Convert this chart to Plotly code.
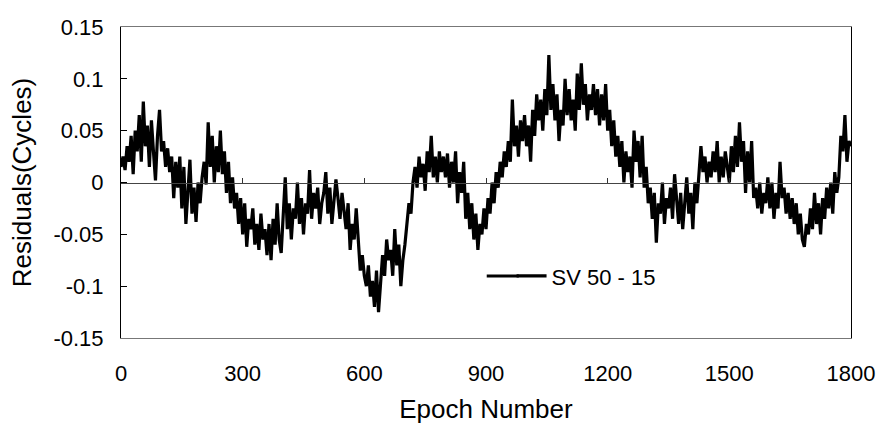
import plotly.graph_objects as go

# Epoch numbers (every 5 epochs) and residuals
step = 5
residuals = [
    # 0-95
    0.015, 0.025, 0.012, 0.035, 0.02, 0.045, 0.008, 0.05, 0.03, 0.065, 0.02, 0.078, 0.035, 0.055, 0.015, 0.06, 0.03, 0.002, 0.045, 0.07,
    # 100-195
    0.03, 0.04, 0.015, 0.033, 0.01, 0.025, -0.015, 0.02, -0.005, 0.025, -0.025, 0.015, -0.04, -0.01, 0.022, -0.03, -0.005, -0.038, 0.0, -0.02,
    # 200-295
    0.005, 0.02, -0.002, 0.058, 0.015, 0.045, 0.0, 0.035, 0.01, 0.05, 0.008, 0.03, -0.01, 0.02, -0.02, 0.005, -0.025, -0.01, -0.04, -0.015,
    # 300-395
    -0.05, -0.02, -0.062, -0.035, -0.045, -0.025, -0.06, -0.04, -0.065, -0.03, -0.055, -0.045, -0.07, -0.04, -0.075, -0.035, -0.06, -0.02, -0.055, -0.068,
    # 400-495
    -0.03, 0.005, -0.045, -0.02, -0.055, -0.025, -0.035, 0.0, -0.04, -0.015, -0.05, -0.02, -0.03, 0.012, -0.035, -0.01, -0.025, -0.005, -0.04, -0.02,
    # 500-595
    -0.01, 0.01, -0.03, -0.005, -0.04, -0.02, 0.003, -0.015, -0.035, -0.01, -0.025, -0.045, -0.02, -0.065, -0.04, -0.055, -0.025, -0.06, -0.085, -0.07,
    # 600-695
    -0.09, -0.1, -0.08, -0.11, -0.095, -0.12, -0.085, -0.125, -0.1, -0.07, -0.09, -0.055, -0.075, -0.065, -0.09, -0.045, -0.08, -0.06, -0.1, -0.075,
    # 700-795
    -0.06, -0.04, -0.02, -0.03, 0.0, 0.015, -0.005, 0.025, 0.005, 0.018, -0.008, 0.03, 0.01, 0.045, 0.005, 0.025, 0.0, 0.03, 0.01, 0.025,
    # 800-895
    0.005, 0.028, -0.005, 0.02, 0.0, 0.03, -0.02, 0.01, -0.01, 0.02, -0.035, -0.01, -0.045, -0.02, -0.055, -0.03, -0.065, -0.04, -0.05, -0.025,
    # 900-995
    -0.045, -0.015, -0.03, 0.0, -0.02, 0.01, -0.005, 0.02, 0.005, 0.03, 0.015, 0.04, 0.02, 0.08, 0.035, 0.055, 0.025, 0.06, 0.04, 0.065,
    # 1000-1095
    0.035, 0.055, 0.02, 0.07, 0.045, 0.085, 0.06, 0.08, 0.05, 0.09, 0.065, 0.123, 0.07, 0.095, 0.06, 0.085, 0.04, 0.07, 0.055, 0.1,
    # 1100-1195
    0.065, 0.09, 0.06, 0.08, 0.05, 0.105, 0.07, 0.115, 0.075, 0.095, 0.06, 0.085, 0.07, 0.095, 0.065, 0.09, 0.055, 0.085, 0.06, 0.095,
    # 1200-1295
    0.05, 0.07, 0.035, 0.06, 0.025, 0.045, 0.015, 0.04, 0.0, 0.03, 0.01, 0.025, -0.005, 0.05, 0.02, 0.04, 0.005, 0.045, -0.005, 0.015,
    # 1300-1395
    -0.02, -0.005, -0.035, -0.01, -0.058, -0.02, -0.03, 0.0, -0.04, -0.015, -0.025, -0.005, -0.035, 0.008, -0.02, -0.04, -0.01, -0.045, -0.02, 0.005,
    # 1400-1495
    -0.03, -0.01, -0.045, 0.0, -0.02, 0.012, 0.035, 0.01, 0.025, 0.0, 0.02, 0.005, 0.03, 0.01, 0.04, 0.0, 0.025, 0.005, 0.03, 0.015,
    # 1500-1595
    0.0, 0.035, 0.01, 0.045, 0.015, 0.058, 0.02, 0.04, -0.01, 0.03, 0.0, 0.04, -0.015, -0.005, -0.025, 0.0, -0.03, -0.01, -0.02, 0.005,
    # 1600-1695
    -0.025, 0.0, -0.035, -0.01, -0.025, 0.02, -0.015, -0.005, -0.03, -0.01, -0.035, -0.015, -0.04, -0.02, -0.05, -0.03, -0.055, -0.062, -0.04, -0.05,
    # 1700-1795
    -0.025, -0.045, -0.01, -0.04, -0.02, -0.05, -0.015, -0.035, -0.005, -0.025, 0.0, -0.03, 0.01, -0.01, 0.005, 0.045, 0.03, 0.065, 0.02, 0.04,
    # 1800
    0.035,
]
epochs = [i * step for i in range(len(residuals))]

x_ticks = [0, 300, 600, 900, 1200, 1500, 1800]
y_ticks = [0.15, 0.1, 0.05, 0, -0.05, -0.1, -0.15]
y_ticktext = ["0.15", "0.1", "0.05", "0", "-0.05", "-0.1", "-0.15"]
series_name = "SV 50 - 15"

FONT = "Liberation Sans, Arial, sans-serif"

fig = go.Figure()
fig.add_trace(go.Scatter(
    x=epochs, y=residuals, mode="lines", name=series_name,
    line=dict(color="black", width=3.2),
))
# invisible trace to host the zero-line axis with upward ticks
fig.add_trace(go.Scatter(x=[0, 1800], y=[0, 0], mode="lines", xaxis="x2",
                         line=dict(color="rgba(0,0,0,0)"), showlegend=False,
                         hoverinfo="skip"))

# longer legend sample line, extending the built-in one to the left
fig.add_shape(type="line", xref="paper", yref="paper",
              x0=0.501, x1=0.545, y0=0.199, y1=0.199,
              line=dict(color="black", width=3))

fig.update_layout(
    width=877, height=424,
    margin=dict(l=121, r=26, t=27, b=86),
    paper_bgcolor="white", plot_bgcolor="white",
    font=dict(family=FONT, size=22, color="black"),
    showlegend=True,
    legend=dict(x=0.535, y=0.199, xanchor="left", yanchor="middle",
                bgcolor="rgba(0,0,0,0)", font=dict(size=22)),
    xaxis=dict(range=[0, 1800], tickvals=x_ticks, ticks="", showgrid=False,
               zeroline=False, showline=True, linecolor="#777", linewidth=1,
               mirror=True, ticklabelstandoff=16, automargin=False,
               title=dict(text="Epoch Number", standoff=14)),
    xaxis2=dict(range=[0, 1800], overlaying="x", anchor="free", position=0.5,
                side="bottom", tickvals=x_ticks, ticks="inside", ticklen=5,
                tickcolor="#333", showticklabels=False, showgrid=False,
                zeroline=False, showline=True, linecolor="#444", linewidth=1,
                automargin=False),
    yaxis=dict(range=[-0.15, 0.15], tickvals=y_ticks, ticktext=y_ticktext,
               ticks="inside", ticklen=6, tickcolor="black", showgrid=False,
               zeroline=False, showline=True, linecolor="black", linewidth=1,
               mirror=True, ticklabelstandoff=12, automargin=False,
               title=dict(text="Residuals(Cycles)", standoff=14)),
)

fig.write_html("out.html")
